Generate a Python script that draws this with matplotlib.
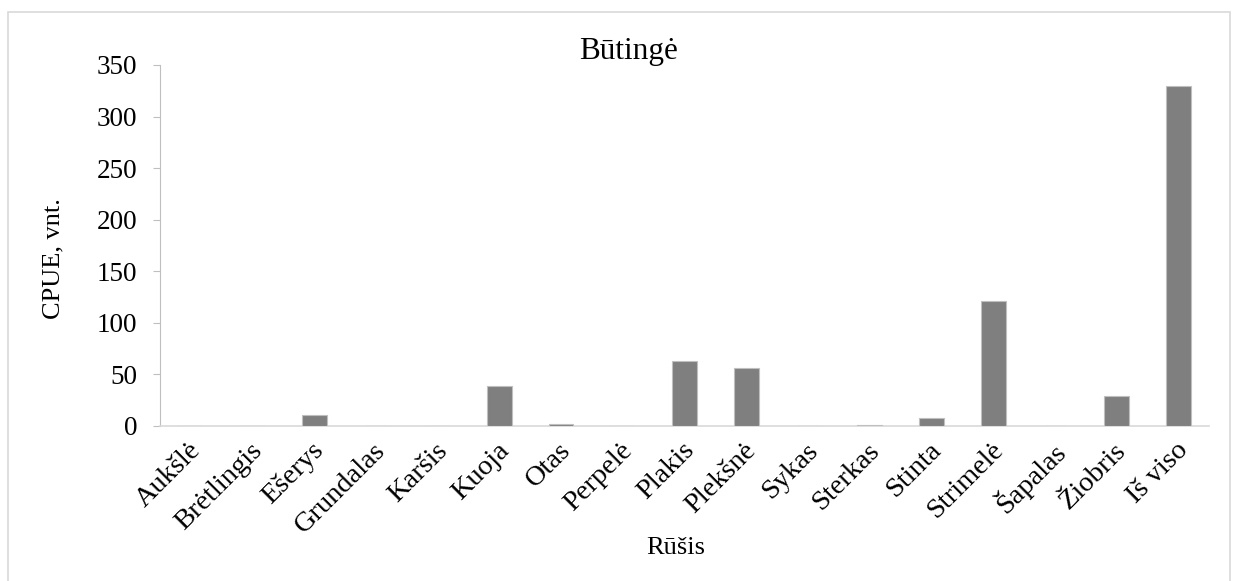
import matplotlib
matplotlib.use("Agg")
import matplotlib.pyplot as plt
import matplotlib.transforms as mtransforms
from matplotlib.patches import Rectangle

categories = ["Aukšlė", "Brėtlingis", "Ešerys", "Grundalas", "Karšis", "Kuoja",
              "Otas", "Perpelė", "Plakis", "Plekšnė", "Sykas", "Sterkas",
              "Stinta", "Strimelė", "Šapalas", "Žiobris", "Iš viso"]
values = [0, 0, 11, 0, 0, 39, 1.5, 0, 63, 56, 0, 0.6, 8, 121, 0, 29, 330]
yticks = [0, 50, 100, 150, 200, 250, 300, 350]

plt.rcParams['font.family'] = ['Liberation Serif', 'DejaVu Serif']

fig = plt.figure(figsize=(12.39, 5.81), dpi=100)
ax = fig.add_axes([0.129, 0.2668, 0.847, 0.6214])

x = list(range(len(categories)))
colors = ["#7f7f7f"] * len(values)
colors[categories.index("Sterkas")] = "#d9d9d9"
ax.bar(x, values, width=0.4, color=colors, edgecolor="#bfbfbf", linewidth=0.8, zorder=3)

ax.set_xlim(-0.5, len(categories) - 0.5)
ax.set_ylim(0, 350)
ax.set_yticks(yticks)
ax.set_yticklabels([str(v) for v in yticks], fontsize=19.5)
ax.set_xticks(x)
ax.set_xticklabels(categories, rotation=45, ha="right", va="center",
                   rotation_mode="anchor", fontsize=20.5)
ax.tick_params(axis="x", length=0, pad=15)
ax.tick_params(axis="y", length=5, color="#bfbfbf", direction="out", pad=11)

offset = mtransforms.ScaledTranslation(6 / 100, 0, fig.dpi_scale_trans)
for lbl in ax.get_xticklabels():
    lbl.set_transform(lbl.get_transform() + offset)

for s in ["top", "right"]:
    ax.spines[s].set_visible(False)
ax.spines["left"].set_color("#bfbfbf")
ax.spines["bottom"].set_color("#d9d9d9")
ax.spines["bottom"].set_linewidth(1.2)

ax.set_ylabel("CPUE, vnt.", fontsize=19)
ax.yaxis.set_label_coords(-0.091, 0.465)

fig.text(0.507, 0.9105, "Būtingė", fontsize=22.5, ha="center", va="center")
fig.text(0.545, 0.0568, "Rūšis", fontsize=19, ha="center", va="center")

fig.patches.append(Rectangle((8/1239, -0.01), 1222/1239, 1 - 12/581 + 0.01,
                             transform=fig.transFigure, fill=False,
                             edgecolor="#d9d9d9", linewidth=1.2))

fig.savefig("out.png", dpi=100)
